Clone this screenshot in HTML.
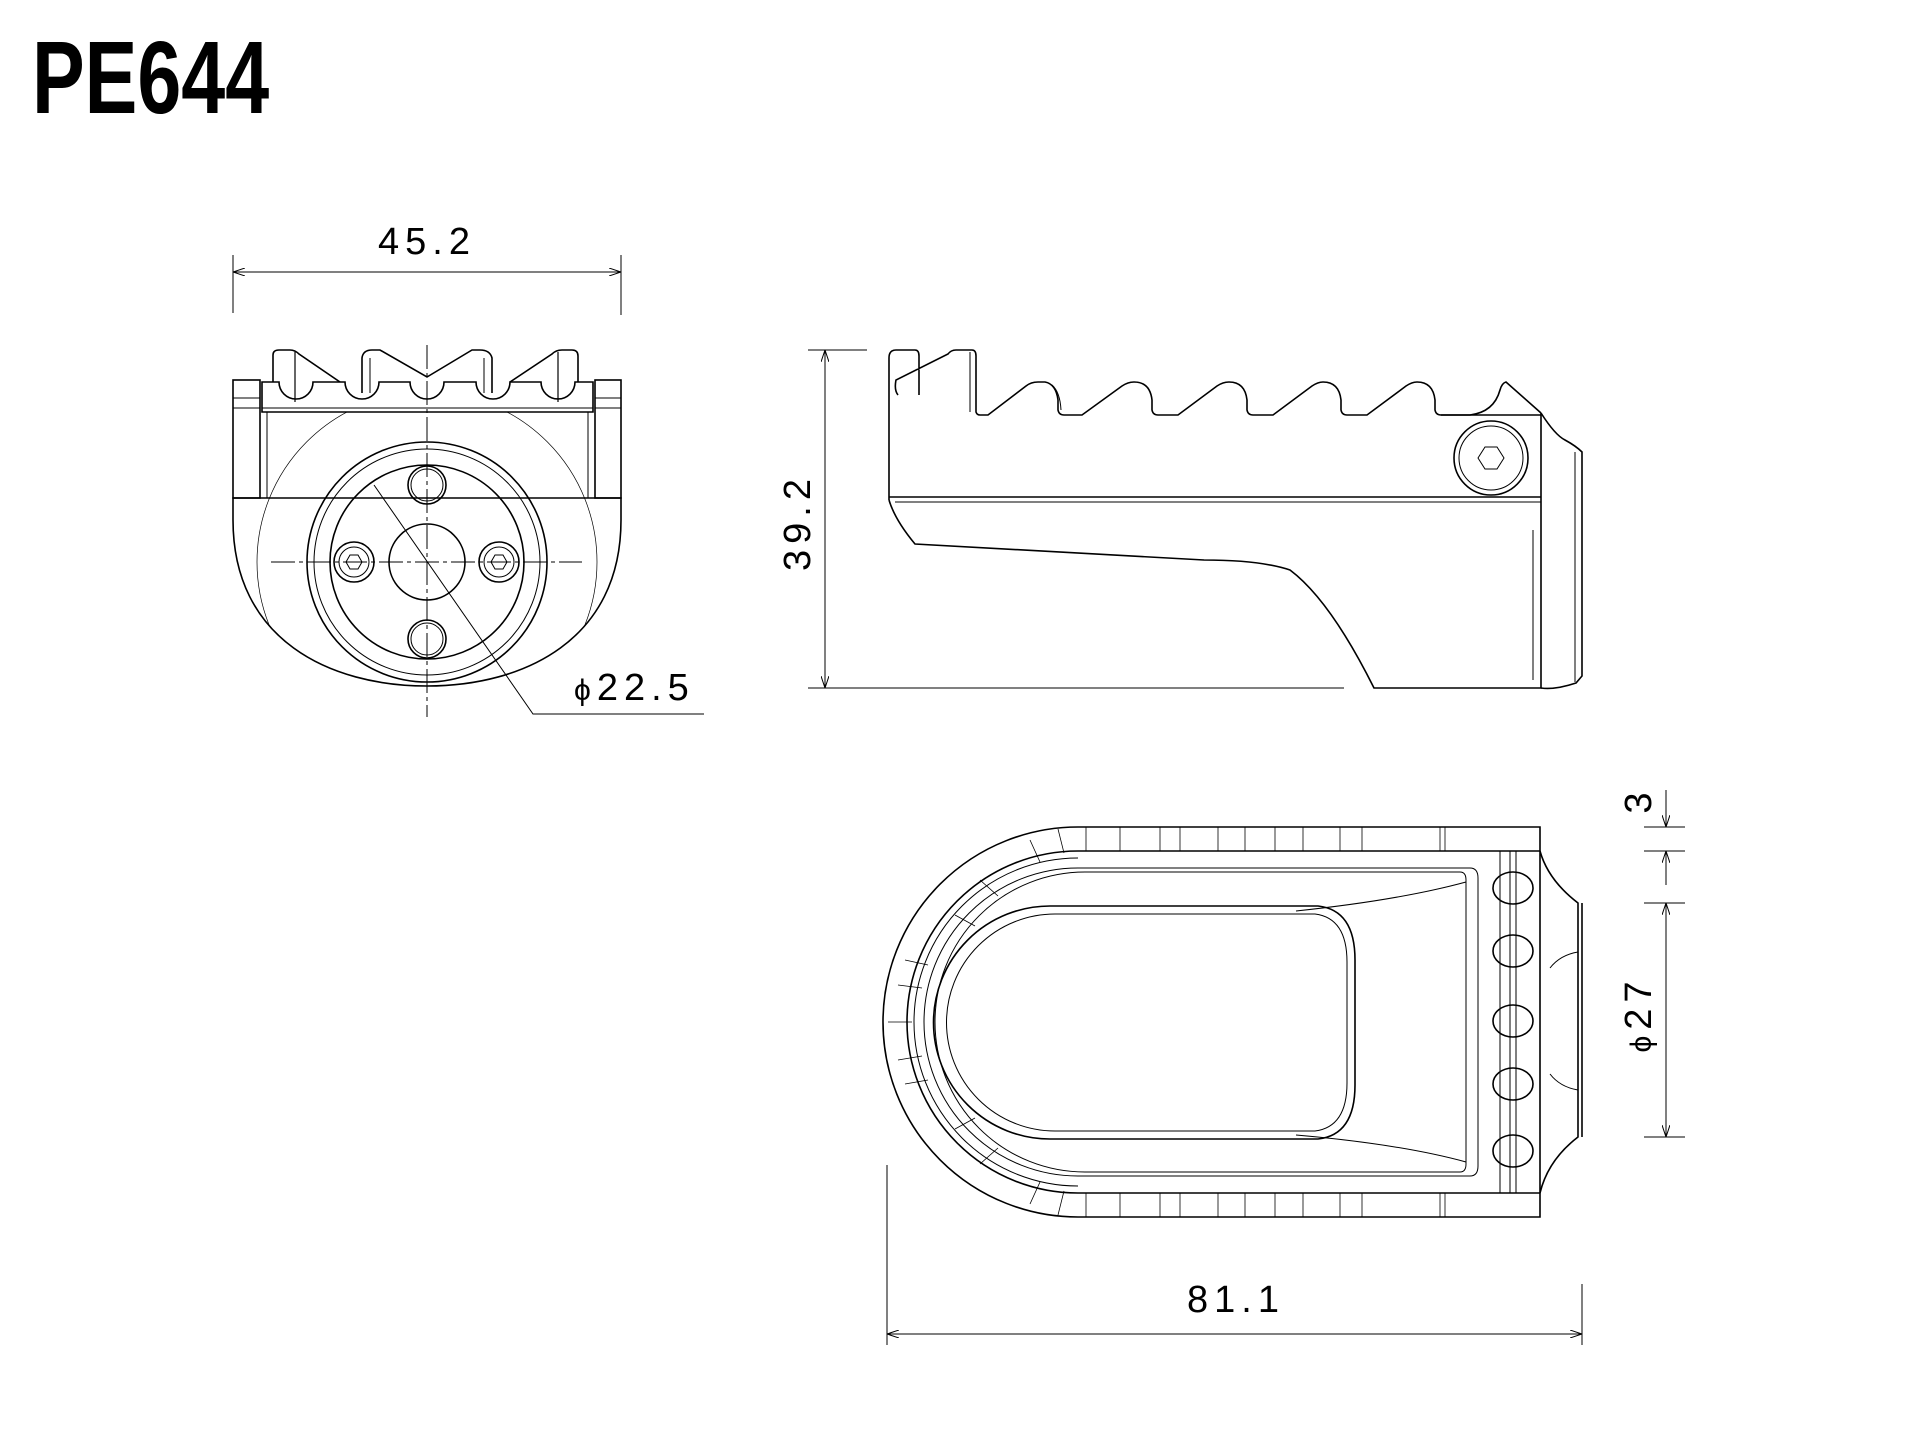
<!DOCTYPE html>
<html><head><meta charset="utf-8"><style>
html,body{margin:0;padding:0;background:#fff;width:1920px;height:1453px;overflow:hidden}
svg{display:block}
text{font-family:"Liberation Sans",sans-serif;fill:#000}
</style></head><body>
<svg width="1920" height="1453" viewBox="0 0 1920 1453" xmlns="http://www.w3.org/2000/svg">
<defs>
<marker id="a" viewBox="0 0 12 8" refX="12" refY="4" markerWidth="12" markerHeight="8" orient="auto-start-reverse" markerUnits="userSpaceOnUse"><path d="M0,0 L12,4 L0,8" fill="none" stroke="#000" stroke-width="1"/></marker>
<clipPath id="bc"><path d="M262,412 L593,412 L593,498 L621,498 L621,520 C621,640 524,686 427,686 C330,686 233,640 233,520 L233,498 L262,498 Z"/></clipPath>
</defs>
<text x="0" y="0" font-size="100" font-weight="bold" transform="translate(32 113) scale(0.79 1.03)" style="font-family:'Liberation Sans Narrow','Liberation Sans',sans-serif">PE644</text>

<g fill="none" stroke="#000" stroke-width="1">
<line x1="233" y1="255" x2="233" y2="313"/><line x1="621" y1="255" x2="621" y2="315"/>
<line x1="233" y1="272" x2="621" y2="272" marker-start="url(#a)" marker-end="url(#a)"/>
<line x1="271" y1="562" x2="582" y2="562" stroke-dasharray="24 4 4 4"/>
<line x1="427" y1="345" x2="427" y2="717" stroke-dasharray="24 4 4 4"/>
<polyline points="374,485 533,714 704,714"/>
<circle cx="427" cy="562" r="170" stroke-width="0.7" clip-path="url(#bc)"/>
</g>
<g fill="none" stroke="#000" stroke-width="1.6">
<path d="M273,382 L273,355 Q273,350 279,350 L290,350 Q295,350 299,354 L340,382"/>
<line x1="295" y1="352" x2="295" y2="402" stroke-width="1.2"/>
<path d="M362,393 L362,358 Q363,350 372,350 L380,350 L427,377 L472,350 L480,350 Q490,350 492,358 L492,393"/>
<path d="M370,393 L370,358 M484,393 L484,358" stroke-width="1"/>
<path d="M510,382 L552,354 Q556,350 562,350 L572,350 Q578,350 578,356 L578,382"/>
<line x1="558" y1="352" x2="558" y2="402" stroke-width="1.2"/>
<path d="M262,382 L279,382 A17,17 0 0 0 313,382 L345,382 A17,17 0 0 0 379,382 L410,382 A17,17 0 0 0 444,382 L476,382 A17,17 0 0 0 510,382 L541,382 A17,17 0 0 0 575,382 L593,382 L593,412 L262,412 Z"/>
<path d="M262,408 L593,408" stroke-width="1"/>
<rect x="233" y="380" width="27" height="118"/><rect x="595" y="380" width="26" height="118"/>
<line x1="233" y1="398" x2="260" y2="398" stroke-width="1"/><line x1="233" y1="408" x2="260" y2="408" stroke-width="1"/>
<line x1="595" y1="398" x2="621" y2="398" stroke-width="1"/><line x1="595" y1="408" x2="621" y2="408" stroke-width="1"/>
<line x1="267" y1="412" x2="267" y2="498" stroke-width="1"/><line x1="588" y1="412" x2="588" y2="498" stroke-width="1"/>
<path d="M233,498 L621,498 L621,520 C621,640 524,686 427,686 C330,686 233,640 233,520 Z"/>
<circle cx="427" cy="562" r="120"/>
<circle cx="427" cy="562" r="113" stroke-width="1"/>
<circle cx="427" cy="562" r="97"/>
<circle cx="427" cy="485" r="19"/><circle cx="427" cy="485" r="16" stroke-width="1"/>
<circle cx="427" cy="639" r="19"/><circle cx="427" cy="639" r="16" stroke-width="1"/>
<circle cx="427" cy="562" r="38"/>
<circle cx="354" cy="562" r="20"/><circle cx="354" cy="562" r="15" stroke-width="1"/><polygon points="362,562 358,569 350,569 346,562 350,555 358,555" stroke-width="1"/>
<circle cx="499" cy="562" r="20"/><circle cx="499" cy="562" r="15" stroke-width="1"/><polygon points="507,562 503,569 495,569 491,562 495,555 503,555" stroke-width="1"/>
</g>
<text x="427" y="254" font-size="38" text-anchor="middle" letter-spacing="6">45.2</text>
<text x="574" y="700" font-size="38" letter-spacing="6"><tspan font-size="30">ϕ</tspan>22.5</text>

<g fill="none" stroke="#000" stroke-width="1">
<line x1="808" y1="350" x2="867" y2="350"/><line x1="808" y1="688" x2="1344" y2="688"/>
<line x1="825" y1="350" x2="825" y2="688" marker-start="url(#a)" marker-end="url(#a)"/>
</g>
<text transform="translate(810 522) rotate(-90)" font-size="38" text-anchor="middle" letter-spacing="6">39.2</text>
<g fill="none" stroke="#000" stroke-width="1.6">
<path d="M889,500 L889,358 Q889,350 896,350 L915,350 Q919,350 919,356 L919,395 M898,395 Q894,390 896,380 L948,354 Q951,350 956,350 L972,350 Q976,350 976,356 L976,412 Q977,415 980,415 L988,415 L1026,386 Q1031,382 1038,382 L1045,382 Q1056,384 1058,400 L1058,410 Q1059,415 1064,415 L1082,415 L1122,386 Q1128,382 1134,382 Q1150,382 1152,400 L1152,410 Q1153,415 1158,415 L1178,415 L1217,386 Q1223,382 1229,382 Q1245,382 1247,400 L1247,410 Q1248,415 1253,415 L1273,415 L1312,386 Q1318,382 1323,382 Q1339,382 1341,400 L1341,410 Q1342,415 1347,415 L1367,415 L1406,386 Q1412,382 1417,382 Q1433,382 1435,400 L1435,410 Q1436,415 1441,415 L1470,415 Q1494,412 1500,390 Q1502,383 1506,382 L1541,413"/>
<path d="M970,352 L970,412 M1052,385 Q1060,392 1061,410" stroke-width="1"/>
<path d="M1541,413 L1541,688 L1374,688 Q1330,600 1290,570 Q1260,560 1204,560 L915,544 Q895,520 889,500"/>
<line x1="1441" y1="415" x2="1541" y2="415"/>
<line x1="889" y1="497" x2="1541" y2="497"/>
<line x1="895" y1="502" x2="1541" y2="502" stroke-width="1"/>
<line x1="1533" y1="530" x2="1533" y2="680" stroke-width="1"/>
<path d="M1541,413 Q1555,435 1565,440 Q1576,446 1582,452 L1582,676 L1576,683 Q1555,690 1541,688"/>
<line x1="1575" y1="452" x2="1575" y2="682" stroke-width="1"/>
<circle cx="1491" cy="458" r="37"/><circle cx="1491" cy="458" r="32" stroke-width="1"/>
<polygon points="1504,458 1497,469 1485,469 1478,458 1485,447 1497,447" stroke-width="1"/>
</g>

<g fill="none" stroke="#000" stroke-width="1.6">
<path d="M1540,827 L1078,827 A195,195 0 0 0 1078,1217 L1540,1217 Z"/>
<path d="M1540,851 L1078,851 A171,171 0 0 0 1078,1193 L1540,1193"/>
<path d="M1078,858 A164,164 0 0 0 1078,1186" stroke-width="1"/>
<path d="M1470,868 L1078,868 A154,154 0 0 0 1078,1176 L1470,1176 Q1478,1176 1478,1166 L1478,878 Q1478,868 1470,868 Z" stroke-width="1"/>
<path d="M1460,872 L1085,872 A150,150 0 0 0 1085,1172 L1460,1172 Q1466,1172 1466,1164 L1466,880 Q1466,872 1460,872 Z" stroke-width="1"/>
<path d="M1050,906 L1318,906 Q1355,910 1355,960 L1355,1085 Q1355,1135 1318,1139 L1050,1139 A116,116 0 0 1 1050,906 Z"/>
<path d="M1055,914 L1315,914 Q1347,918 1347,962 L1347,1083 Q1347,1127 1315,1131 L1055,1131 A108,108 0 0 1 1055,914 Z" stroke-width="1"/>
<path d="M1296,911 Q1400,900 1466,882 M1296,1135 Q1400,1144 1466,1162" stroke-width="1"/>
<line x1="1500" y1="851" x2="1500" y2="1193" stroke-width="1"/>
<line x1="1510" y1="851" x2="1510" y2="1193" stroke-width="1"/>
<rect x="1516" y="851" width="24" height="342" stroke-width="1"/>
<ellipse cx="1513" cy="888" rx="20" ry="16"/><ellipse cx="1513" cy="951" rx="20" ry="16"/><ellipse cx="1513" cy="1021" rx="20" ry="16"/><ellipse cx="1513" cy="1084" rx="20" ry="16"/><ellipse cx="1513" cy="1151" rx="20" ry="16"/>
<path d="M1540,851 Q1548,880 1578,903 L1578,1137 Q1548,1160 1540,1193"/>
<line x1="1582" y1="903" x2="1582" y2="1137"/>
<path d="M1578,952 Q1560,955 1550,968 M1578,1090 Q1560,1087 1550,1074" stroke-width="1"/>
</g>
<g stroke="#000" stroke-width="0.8">
<line x1="1086" y1="827" x2="1086" y2="851"/><line x1="1120" y1="827" x2="1120" y2="851"/><line x1="1160" y1="827" x2="1160" y2="851"/><line x1="1180" y1="827" x2="1180" y2="851"/><line x1="1218" y1="827" x2="1218" y2="851"/><line x1="1245" y1="827" x2="1245" y2="851"/><line x1="1275" y1="827" x2="1275" y2="851"/><line x1="1303" y1="827" x2="1303" y2="851"/><line x1="1340" y1="827" x2="1340" y2="851"/><line x1="1362" y1="827" x2="1362" y2="851"/><line x1="1440" y1="827" x2="1440" y2="851"/><line x1="1445" y1="827" x2="1445" y2="851"/>
<line x1="1086" y1="1193" x2="1086" y2="1217"/><line x1="1120" y1="1193" x2="1120" y2="1217"/><line x1="1160" y1="1193" x2="1160" y2="1217"/><line x1="1180" y1="1193" x2="1180" y2="1217"/><line x1="1218" y1="1193" x2="1218" y2="1217"/><line x1="1245" y1="1193" x2="1245" y2="1217"/><line x1="1275" y1="1193" x2="1275" y2="1217"/><line x1="1303" y1="1193" x2="1303" y2="1217"/><line x1="1340" y1="1193" x2="1340" y2="1217"/><line x1="1362" y1="1193" x2="1362" y2="1217"/><line x1="1440" y1="1193" x2="1440" y2="1217"/><line x1="1445" y1="1193" x2="1445" y2="1217"/>
<line x1="1058" y1="829" x2="1064" y2="853"/><line x1="1030" y1="840" x2="1040" y2="862"/><line x1="980" y1="880" x2="998" y2="896"/><line x1="955" y1="915" x2="975" y2="926"/><line x1="905" y1="960" x2="928" y2="965"/><line x1="898" y1="985" x2="922" y2="988"/><line x1="888" y1="1022" x2="912" y2="1022"/><line x1="898" y1="1060" x2="922" y2="1056"/><line x1="905" y1="1084" x2="928" y2="1080"/><line x1="955" y1="1129" x2="975" y2="1118"/><line x1="980" y1="1164" x2="998" y2="1148"/><line x1="1030" y1="1204" x2="1040" y2="1182"/><line x1="1058" y1="1215" x2="1064" y2="1191"/>
</g>
<g fill="none" stroke="#000" stroke-width="1">
<line x1="1644" y1="827" x2="1685" y2="827"/><line x1="1644" y1="851" x2="1685" y2="851"/><line x1="1644" y1="903" x2="1685" y2="903"/><line x1="1644" y1="1137" x2="1685" y2="1137"/>
<line x1="1666" y1="790" x2="1666" y2="827" marker-end="url(#a)"/><line x1="1666" y1="885" x2="1666" y2="851" marker-end="url(#a)"/>
<line x1="1666" y1="903" x2="1666" y2="1137" marker-start="url(#a)" marker-end="url(#a)"/>
<line x1="887" y1="1165" x2="887" y2="1345"/><line x1="1582" y1="1284" x2="1582" y2="1345"/>
<line x1="887" y1="1334" x2="1582" y2="1334" marker-start="url(#a)" marker-end="url(#a)"/>
</g>
<text transform="translate(1651 803) rotate(-90)" font-size="38" text-anchor="middle">3</text>
<text transform="translate(1651 1014) rotate(-90)" font-size="38" text-anchor="middle" letter-spacing="6"><tspan font-size="30">ϕ</tspan>27</text>
<text x="1236" y="1312" font-size="38" text-anchor="middle" letter-spacing="6">81.1</text>
</svg>
</body></html>
